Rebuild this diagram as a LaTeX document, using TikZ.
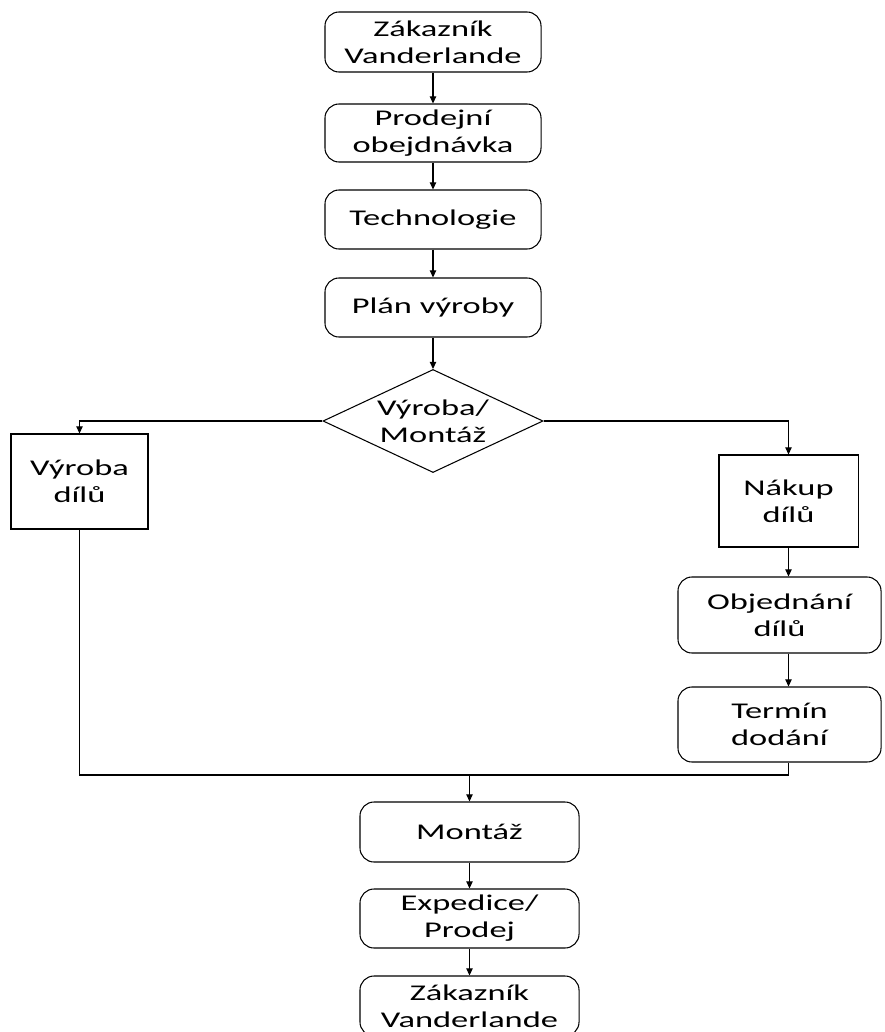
\documentclass[tikz,border=0pt]{standalone}
\usepackage{fontspec}
\setmainfont{Carlito}[FakeStretch=1.53]
\usepackage{tikz}
\usetikzlibrary{shapes.geometric, arrows.meta, positioning, calc}
\tikzset{
  rbox/.style    = {rectangle, draw, rounded corners=10pt, align=center,
                    minimum width=5.4cm, minimum height=1.5cm, inner sep=0pt,
                    font=\fontsize{16}{19.2}\selectfont},
  sbox/.style    = {rectangle, draw, align=center, inner sep=0pt,
                    font=\fontsize{16}{19.2}\selectfont},
  decision/.style = {diamond, draw, align=center,
                    inner xsep=-1.5cm, inner ysep=-0.7cm,
                    minimum width=5.5cm, minimum height=2.575cm,
                    font=\fontsize{16}{19.2}\selectfont},
  arrow/.style   = {line width=0.75pt, -{Triangle[length=5pt,width=4.5pt]}},
  line/.style    = {line width=0.75pt},
}

\begin{document}
\begin{tikzpicture}[x=0.025cm, y=-0.025cm, line width=0.75pt]
    \useasboundingbox (0,0) rectangle (884,1032);

    %% Main column
    \node[rbox]                       (zak1)   at (433,   42)   {Zákazník\\Vanderlande};
    \node[rbox, minimum height=1.45cm] (prod)  at (433,  133)   {Prodejní\\obejdnávka};
    \node[rbox, minimum height=1.475cm] (tech) at (433,  219.5) {Technologie};
    \node[rbox, minimum height=1.475cm] (plan) at (433,  307.5) {Plán výroby};
    \node[decision]                   (diam)   at (433,  421)   {Výroba/\\Montáž};

    %% Branches
    \node[sbox, minimum width=3.425cm, minimum height=2.375cm] (vyroba) at (79.5, 481.5) {Výroba\\dílů};
    \node[sbox, minimum width=3.475cm, minimum height=2.3cm]   (nakup)  at (788.5, 501) {Nákup\\dílů};
    \node[rbox, minimum width=5.075cm, minimum height=1.9cm]   (objed)  at (779.5, 615) {Objednání\\dílů};
    \node[rbox, minimum width=5.075cm, minimum height=1.875cm] (termin) at (779.5, 724.5) {Termín\\dodání};

    %% Lower column
    \node[rbox, minimum width=5.475cm]                    (montaz) at (469.5, 832)    {Montáž};
    \node[rbox, minimum width=5.475cm, minimum height=1.475cm] (exped)  at (469.5, 918.5) {Expedice/\\Prodej};
    \node[rbox, minimum width=5.475cm]                    (zak2)   at (469.5, 1006)   {Zákazník\\Vanderlande};

    \coordinate (join) at (469.5, 775);

    \draw[arrow] (zak1) -- (prod);
    \draw[arrow] (prod) -- (tech);
    \draw[arrow] (tech) -- (plan);
    \draw[arrow] (plan) -- (diam);
    \draw[arrow] (diam.west) -| (vyroba.north);
    \draw[arrow] (diam.east) -| (nakup.north);
    \draw[arrow] (nakup.south) -- (nakup.south |- objed.north);
    \draw[arrow] (objed.south -| nakup.south) -- (termin.north -| nakup.south);
    \draw[line] (vyroba.south) |- (join) -| (termin.south -| nakup.south);
    \draw[arrow] (join) -- (montaz);
    \draw[arrow] (montaz) -- (exped);
    \draw[arrow] (exped) -- (zak2);

  \end{tikzpicture}
\end{document}
